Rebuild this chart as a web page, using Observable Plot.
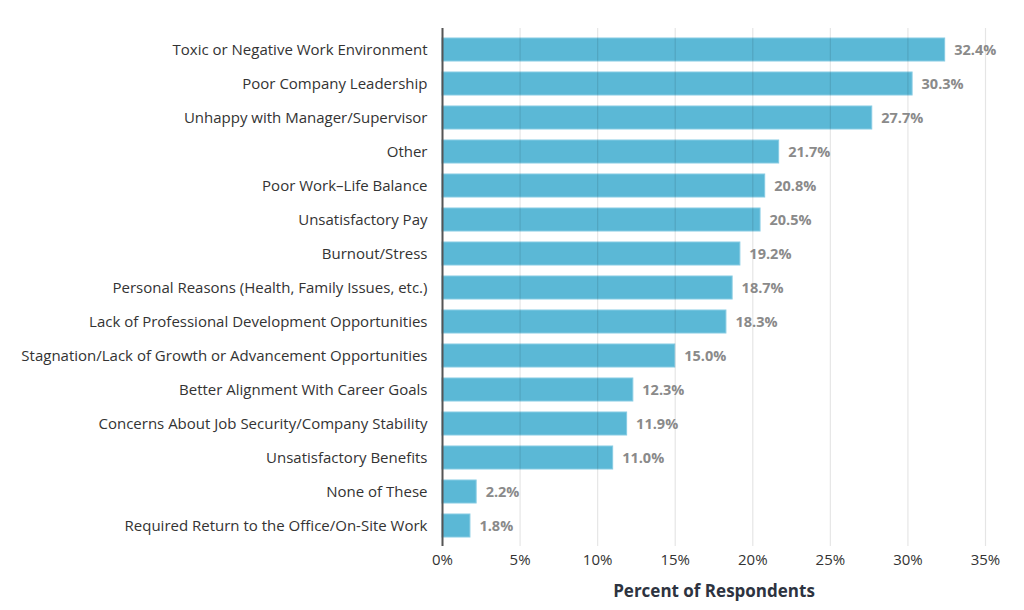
<!DOCTYPE html>
<html>
<head>
<meta charset="utf-8">
<script src="https://cdn.jsdelivr.net/npm/d3@7"></script>
<script src="https://cdn.jsdelivr.net/npm/@observablehq/plot@0.6"></script>
<style>
  html, body { margin: 0; padding: 0; background: #fff; }
  #chart { width: 1024px; height: 610px; }
</style>
</head>
<body>
<div id="chart"></div>
<script>
const categories = [
  "Toxic or Negative Work Environment",
  "Poor Company Leadership",
  "Unhappy with Manager/Supervisor",
  "Other",
  "Poor Work–Life Balance",
  "Unsatisfactory Pay",
  "Burnout/Stress",
  "Personal Reasons (Health, Family Issues, etc.)",
  "Lack of Professional Development Opportunities",
  "Stagnation/Lack of Growth or Advancement Opportunities",
  "Better Alignment With Career Goals",
  "Concerns About Job Security/Company Stability",
  "Unsatisfactory Benefits",
  "None of These",
  "Required Return to the Office/On-Site Work"
];
const values = [32.4, 30.3, 27.7, 21.7, 20.8, 20.5, 19.2, 18.7, 18.3, 15.0, 12.3, 11.9, 11.0, 2.2, 1.8];
const xTicks = [0, 5, 10, 15, 20, 25, 30, 35];
const xLabel = "Percent of Respondents";

const data = categories.map((c, i) => ({category: c, value: values[i]}));

const chart = Plot.plot({
  width: 1024,
  height: 610,
  marginLeft: 442,
  marginRight: 39,
  marginTop: 28,
  marginBottom: 64,
  style: {fontFamily: "'Open Sans', sans-serif", fontSize: "15px", color: "#333"},
  x: {domain: [0, 35]},
  y: {domain: categories, paddingInner: 0.33, paddingOuter: 0.235},
  marks: [
    Plot.barX(data, {x: "value", y: "category", fill: "#5bb8d6", stroke: "#86cbe3", strokeWidth: 1}),
    Plot.gridX(xTicks, {stroke: "#000", strokeOpacity: 0.1, strokeWidth: 1.2}),
    Plot.ruleX([0], {stroke: "#555", strokeWidth: 2}),
    Plot.text(data, {x: "value", y: "category", text: d => d.value.toFixed(1) + "%", textAnchor: "start", dx: 9, fill: "#8a8a8a", fontWeight: "bold", fontSize: 14.5}),
    Plot.axisY({tickSize: 0, tickPadding: 15, label: null, fontSize: 15, fill: "#333"}),
    Plot.axisX(xTicks, {tickSize: 0, tickPadding: 8, tickFormat: d => d + "%", label: null, fontSize: 15, fill: "#333"}),
    Plot.text([xLabel], {frameAnchor: "bottom", dy: 50, fontWeight: "bold", fontSize: 17, fill: "#2d3340"})
  ]
});
document.getElementById("chart").appendChild(chart);
</script>
</body>
</html>
